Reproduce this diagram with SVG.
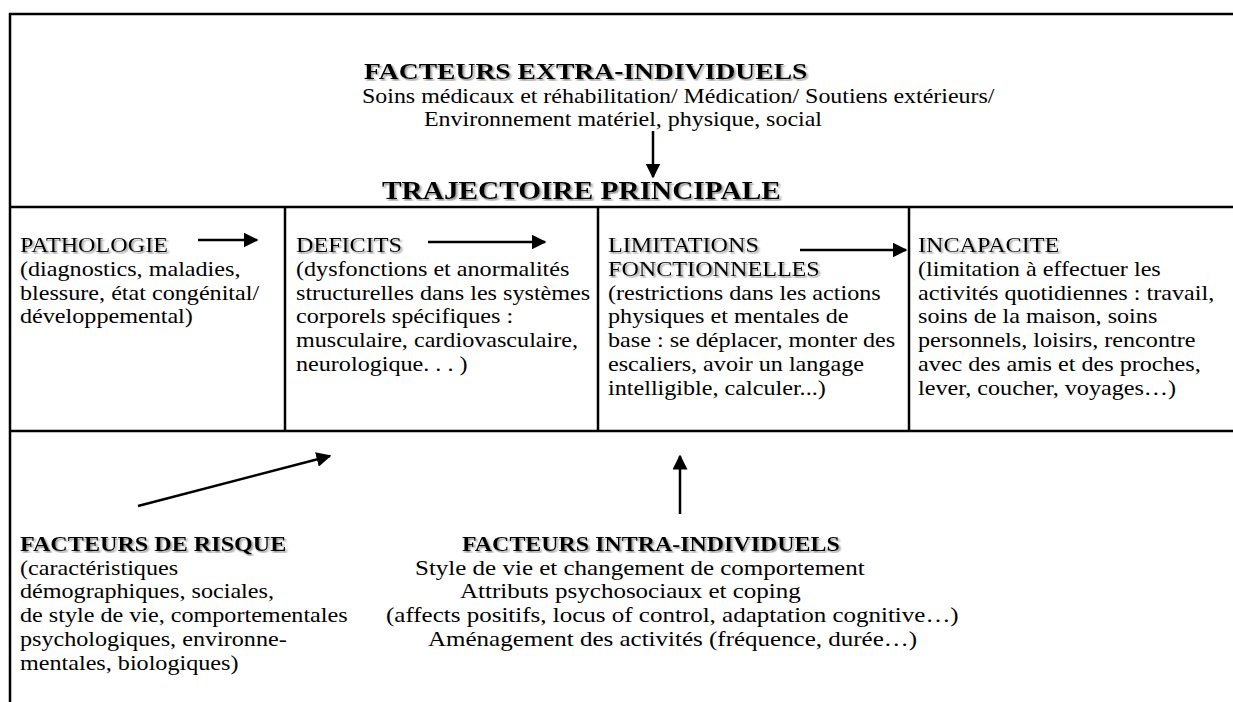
<svg xmlns="http://www.w3.org/2000/svg" width="1233" height="702" viewBox="0 0 1233 702">
<defs>
<style>
text{font-family:"Liberation Serif","Times New Roman",serif;font-size:21px;fill:#000}
.b{font-weight:bold}
.h{font-weight:bold;font-size:24px}
.sh{filter:url(#shadow)}
.frame{stroke:#000;stroke-width:2.5;fill:none}
.conn{stroke:#000;stroke-width:2.5;fill:none;marker-end:url(#ah)}
</style>
<filter id="shadow" x="-5%" y="-30%" width="110%" height="160%">
<feDropShadow dx="1.4" dy="1.6" stdDeviation="0.7" flood-color="#777" flood-opacity="0.8"/>
</filter>
<marker id="ah" viewBox="0 0 10 10" refX="9" refY="5" markerWidth="6" markerHeight="6" markerUnits="strokeWidth" orient="auto">
<path d="M0,0 L10,5 L0,10 z" fill="#000"/>
</marker>
</defs>
<rect width="1233" height="702" fill="#fff"/>
<g id="frame">
<path class="frame" d="M10,702 V14 H1233 M10,207 H1233 M10,431 H1233 M285,207 V431 M598,207 V431 M909,207 V431"/>
</g>
<g id="extra">
<text class="h sh" transform="translate(364,79) scale(1.15,1)">FACTEURS EXTRA-INDIVIDUELS</text>
<text transform="translate(362,103) scale(1.14,1)">Soins médicaux et réhabilitation/ Médication/ Soutiens extérieurs/</text>
<text transform="translate(424,126) scale(1.14,1)">Environnement matériel, physique, social</text>
</g>
<g id="trajectoire">
<text class="h sh" transform="translate(382,199) scale(1.15,1)" style="font-size:25.5px">TRAJECTOIRE PRINCIPALE</text>
</g>
<g id="pathologie" transform="translate(20,0) scale(1.15,1)">
<text class="sh" y="252">PATHOLOGIE</text>
<text y="276">(diagnostics, maladies,</text>
<text y="300">blessure, état congénital/</text>
<text y="323">développemental)</text>
</g>
<g id="deficits" transform="translate(296,0) scale(1.15,1)">
<text class="sh" y="252">DEFICITS</text>
<text y="276">(dysfonctions et anormalités</text>
<text y="300">structurelles dans les systèmes</text>
<text y="323">corporels spécifiques :</text>
<text y="347">musculaire, cardiovasculaire,</text>
<text y="371">neurologique. . . )</text>
</g>
<g id="limitations" transform="translate(608,0) scale(1.15,1)">
<text class="sh" y="252">LIMITATIONS</text>
<text class="sh" y="276">FONCTIONNELLES</text>
<text y="300">(restrictions dans les actions</text>
<text y="323">physiques et mentales de</text>
<text y="347">base : se déplacer, monter des</text>
<text y="371">escaliers, avoir un langage</text>
<text y="395">intelligible, calculer...)</text>
</g>
<g id="incapacite" transform="translate(918,0) scale(1.15,1)">
<text class="sh" y="252">INCAPACITE</text>
<text y="276">(limitation à effectuer les</text>
<text y="300">activités quotidiennes : travail,</text>
<text y="323">soins de la maison, soins</text>
<text y="347">personnels, loisirs, rencontre</text>
<text y="371">avec des amis et des proches,</text>
<text y="395">lever, coucher, voyages…)</text>
</g>
<g id="risque" transform="translate(20,0) scale(1.15,1)">
<text class="b sh" y="551">FACTEURS DE RISQUE</text>
<text y="575">(caractéristiques</text>
<text y="598">démographiques, sociales,</text>
<text y="622">de style de vie, comportementales</text>
<text y="646">psychologiques, environne-</text>
<text y="670">mentales, biologiques)</text>
</g>
<g id="intra">
<text class="b sh" transform="translate(462,551) scale(1.14,1)">FACTEURS INTRA-INDIVIDUELS</text>
<text transform="translate(415,575) scale(1.19,1)">Style de vie et changement de comportement</text>
<text transform="translate(460,598) scale(1.19,1)">Attributs psychosociaux et coping</text>
<text transform="translate(386,622) scale(1.19,1)">(affects positifs, locus of control, adaptation cognitive…)</text>
<text transform="translate(428,646) scale(1.19,1)">Aménagement des activités (fréquence, durée…)</text>
</g>
<g id="connectors">
<line class="conn" x1="653" y1="131" x2="653" y2="177"/>
<line class="conn" x1="198" y1="240" x2="257" y2="240"/>
<line class="conn" x1="428" y1="242" x2="545" y2="242"/>
<line class="conn" x1="800" y1="250" x2="906" y2="250"/>
<line class="conn" x1="138" y1="506" x2="330" y2="456"/>
<line class="conn" x1="680" y1="514" x2="680" y2="456"/>
</g>
</svg>
